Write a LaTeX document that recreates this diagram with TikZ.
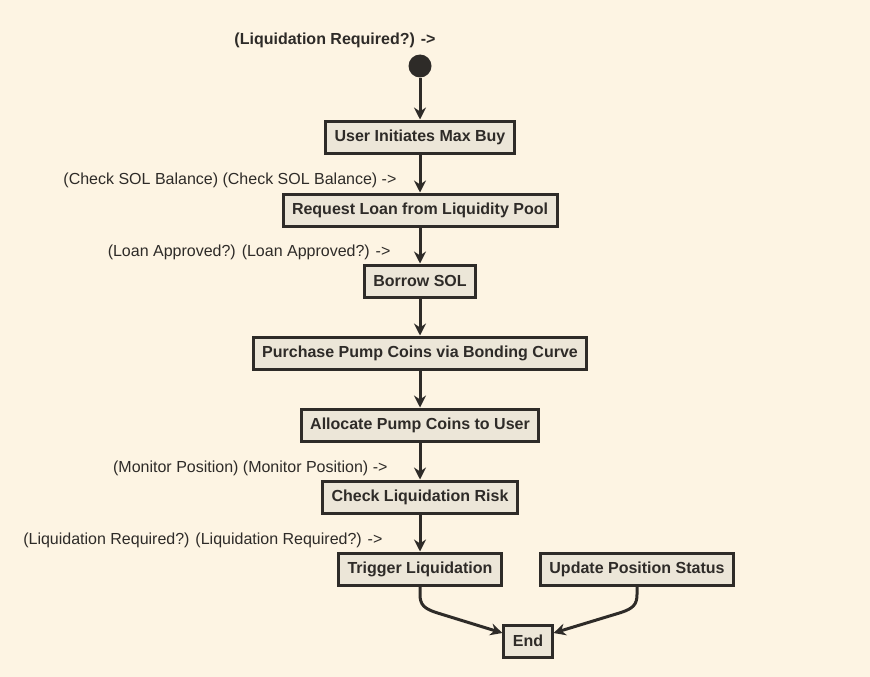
\documentclass[tikz,border=0pt]{standalone}
\usepackage{fontspec}
\setmainfont{Liberation Sans}
\usepackage{tikz}
\usetikzlibrary{calc,arrows.meta,positioning}

\definecolor{paper}{HTML}{FDF4E3}
\definecolor{boxfill}{HTML}{ECE6D8}
\definecolor{ink}{HTML}{2E2B28}

\begin{document}
\begin{tikzpicture}[x=1pt,y=-1pt,
		stepbox/.style={draw=ink,fill=boxfill,line width=3pt,minimum height=32pt,inner xsep=9pt,font=\fontsize{16}{18}\selectfont\bfseries,text=ink},
		guard/.style={anchor=east,font=\fontsize{16}{18}\selectfont,text=ink},
		flow/.style={draw=ink,line width=3pt,-{Stealth[length=12pt,width=12pt,inset=4pt]}}]
		\fill[paper] (0,0) rectangle (870,677);
		\useasboundingbox (0,0) rectangle (870,677);
		\node[font=\fontsize{16}{18}\selectfont\bfseries,text=ink] (top) at (335,40) {(Liquidation Required?) ->};
		\node[circle,fill=ink,minimum size=23pt,inner sep=0pt] (start) at (420,66) {};
		\node[stepbox] (maxbuy) at (420,137) {User Initiates Max Buy};
		\node[stepbox] (loan) at (420,210) {Request Loan from Liquidity Pool};
		\node[stepbox] (borrow) at (420,281) {Borrow SOL};
		\node[stepbox] (purchase) at (420,353) {Purchase Pump Coins via Bonding Curve};
		\node[stepbox] (allocate) at (420,425) {Allocate Pump Coins to User};
		\node[stepbox] (risk) at (420,497) {Check Liquidation Risk};
		\node[stepbox] (trigger) at (420,569) {Trigger Liquidation};
		\node[stepbox] (update) at (637,569) {Update Position Status};
		\node[stepbox] (fin) at (528,641) {End};
		
		\node[guard] (g1) at (400,180) {(Check SOL Balance) (Check SOL Balance) ->};
		\node[guard] (g2) at (394,252) {(Loan Approved?) (Loan Approved?) ->};
		\node[guard] (g3) at (391,468) {(Monitor Position) (Monitor Position) ->};
		\node[guard] (g4) at (386,540) {(Liquidation Required?) (Liquidation Required?) ->};
		
		\draw[flow] (start) -- (maxbuy);
		\draw[flow] (maxbuy) -- (loan);
		\draw[flow] (loan) -- (borrow);
		\draw[flow] (borrow) -- (purchase);
		\draw[flow] (purchase) -- (allocate);
		\draw[flow] (allocate) -- (risk);
		\draw[flow] (risk) -- (trigger);
		\draw[flow] (trigger.south) -- ++(0,8) .. controls +(0,10) and +(-12,-4) .. ++(16,18) -- ($(fin.west)+(0,-8)$);
		\draw[flow] (update.south) -- ++(0,8) .. controls +(0,10) and +(12,-4) .. ++(-16,18) -- ($(fin.east)+(0,-8)$);
		
	\end{tikzpicture}
\end{document}
